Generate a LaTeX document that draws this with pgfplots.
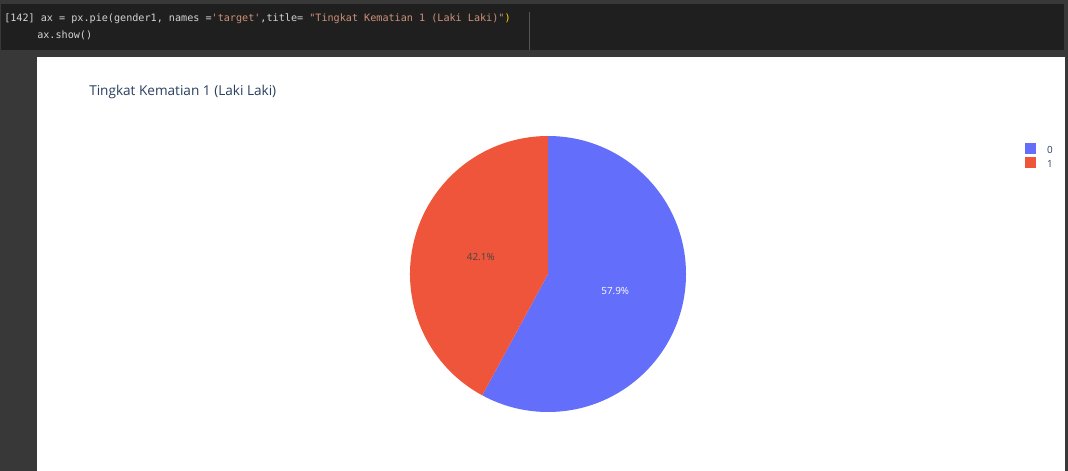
\documentclass[border=0pt]{standalone}
\usepackage{pgfplots}
\usepackage{pgfplotstable}
\pgfplotsset{compat=1.18}
\usepackage{fontspec}
\setmainfont{Open Sans}
\newfontfamily\codefont{DejaVu Sans Mono}
\definecolor{outerbg}{HTML}{383838}
\definecolor{cellbg}{HTML}{1F1F1F}
\definecolor{codetxt}{HTML}{D4D4D4}
\definecolor{codestr}{HTML}{CE9178}
\definecolor{codebr}{HTML}{FFD700}
\definecolor{sepc}{HTML}{555555}
\definecolor{plotblue}{HTML}{636EFA}
\definecolor{plotred}{HTML}{EF553B}
\definecolor{titlec}{HTML}{2A3F5F}
\definecolor{labdark}{HTML}{444444}

\pgfplotstableread{
target share
0 57.9
1 42.1
}\piedata

\begin{document}
\begin{tikzpicture}
\pgfplotstablegetelem{0}{share}\of\piedata \let\sA\pgfplotsretval
\pgfplotstablegetelem{1}{share}\of\piedata \let\sB\pgfplotsretval
\pgfmathsetmacro{\angA}{90-\sA*3.6}
\pgfmathsetmacro{\angB}{\angA-\sB*3.6}
\pgfmathsetmacro{\midA}{90-\sA*1.8}
\pgfmathsetmacro{\midB}{\angA-\sB*1.8}
\begin{axis}[
  scale only axis, width=801pt, height=353.25pt,
  xmin=0, xmax=1068, ymin=0, ymax=471,
  hide axis, clip=false,
  legend style={at={(axis cs:1025,328.5)}, anchor=north west, draw=none, fill=none,
    font=\fontsize{7.4pt}{9pt}\selectfont, text=titlec,
    row sep=1.5pt, inner sep=0pt,
    nodes={inner sep=0pt, text height=6pt, text depth=1.5pt}},
  legend cell align=left,
]
% backgrounds
\fill[outerbg] (axis cs:0,0) rectangle (axis cs:1068,471);
\fill[cellbg] (axis cs:1,421) rectangle (axis cs:1064,467);
\draw[sepc, line width=0.6pt] (axis cs:529.5,421) -- (axis cs:529.5,459);
\fill[white] (axis cs:37,0) rectangle (axis cs:1065,414);
% code
\node[anchor=west, inner sep=0pt, font=\codefont\fontsize{7.6pt}{9pt}\selectfont, text=codetxt] at (axis cs:4,452)
  {[142] ax = px.pie(gender1, names =\textcolor{codestr}{'target'},title= \textcolor{codestr}{"Tingkat Kematian 1 (Laki Laki)"}\textcolor{codebr}{)}};
\node[anchor=west, inner sep=0pt, font=\codefont\fontsize{7.6pt}{9pt}\selectfont, text=codetxt] at (axis cs:37,436)
  {ax.show()};
% title
\node[anchor=west, inner sep=0pt, font=\fontsize{10.2pt}{12pt}\selectfont, text=titlec] at (axis cs:89,379)
  {Tingkat Kematian 1 (Laki Laki)};
% pie
\fill[plotblue] (axis cs:548,197) -- ++(90:103.5pt) arc[start angle=90, end angle=\angA, radius=103.5pt] -- cycle;
\fill[plotred] (axis cs:548,197) -- ++(\angA:103.5pt) arc[start angle=\angA, end angle=\angB, radius=103.5pt] -- cycle;
\path (axis cs:548,197) ++(\midA:52pt) node[font=\fontsize{7.4pt}{9pt}\selectfont, text=white] {\sA\%};
\path (axis cs:548,197) ++(\midB:52pt) node[font=\fontsize{7.4pt}{9pt}\selectfont, text=labdark] {\sB\%};
% legend
\addlegendimage{legend image code/.code={\fill[plotblue] (0pt,-2.25pt) rectangle (7.5pt,5.25pt); \path (16pt,0pt);}}
\addlegendentry{0}
\addlegendimage{legend image code/.code={\fill[plotred] (0pt,-2.25pt) rectangle (7.5pt,5.25pt); \path (16pt,0pt);}}
\addlegendentry{1}
\end{axis}
\end{tikzpicture}
\end{document}
